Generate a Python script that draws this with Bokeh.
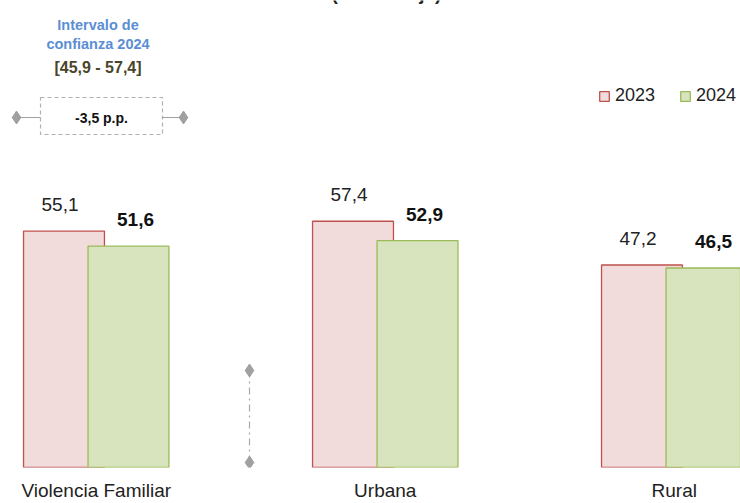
from bokeh.plotting import figure
from bokeh.models import Legend, LegendItem, Label, FixedTicker
from bokeh.core.properties import value
from bokeh.embed import file_html
from bokeh.resources import INLINE

# ---- data ----
categories = ["Violencia Familiar", "Urbana", "Rural"]
values_2023 = [55.1, 57.4, 47.2]
values_2024 = [51.6, 52.9, 46.5]
series_names = ["2023", "2024"]
title_text = "(Porcentaje)"
ci_title = ["Intervalo de", "confianza 2024"]
ci_range = "[45,9 - 57,4]"
diff_label = "-3,5 p.p."

FONT = "'Liberation Sans Narrow', 'Arial Narrow', 'Liberation Sans', sans-serif"

# ---- geometry (page pixels -> data) ----
W, H = 740, 503
BASE_PY = 467
PX_X = 289.0
PX_Y = 4.29
X0 = -95.75 / PX_X
Y1 = BASE_PY / PX_Y


def dx(px):
    return X0 + px / PX_X


def dy(py):
    return (BASE_PY - py) / PX_Y


def fmt(v):
    return f"{v:.1f}".replace(".", ",")


p = figure(width=W, height=H, output_backend="svg", toolbar_location=None,
           x_range=(X0, X0 + W / PX_X), y_range=(0, Y1),
           y_axis_location=None, tools="")
p.min_border_left = 0
p.min_border_right = 0
p.min_border_top = 0
p.min_border_bottom = H - BASE_PY
p.outline_line_color = None
p.xgrid.visible = False
p.ygrid.visible = False
p.background_fill_color = "white"
p.border_fill_color = "white"

idx = list(range(len(categories)))
off = 0.1116
bw = 0.28
x23 = [i - off for i in idx]
x24 = [i + off for i in idx]

r23 = p.vbar(x=x23, top=values_2023, bottom=0, width=bw,
             fill_color="#f2dcdb", line_color="#c0504d", line_width=1.3)
r24 = p.vbar(x=x24, top=values_2024, bottom=0, width=bw,
             fill_color="#d7e4bd", line_color="#9bbb59", line_width=1.3)

p.text(x=x23, y=values_2023, text=[fmt(v) for v in values_2023],
       text_align="center", text_baseline="bottom", y_offset=-20, x_offset=-4,
       text_font=value(FONT), text_font_size="19px", text_color="#222222")
p.text(x=x24, y=values_2024, text=[fmt(v) for v in values_2024],
       text_align="center", text_baseline="bottom", y_offset=-20, x_offset=7,
       text_font=value(FONT), text_font_size="19px", text_font_style="bold",
       text_color="#111111")

# x axis
ax = p.xaxis[0]
ax.ticker = FixedTicker(ticks=idx)
ax.major_label_overrides = {i: c for i, c in zip(idx, categories)}
ax.axis_line_color = None
ax.major_tick_line_color = None
ax.minor_tick_line_color = None
ax.major_tick_out = 0
ax.major_tick_in = 0
ax.major_label_standoff = 12
ax.major_label_text_font = FONT
ax.major_label_text_font_size = "19px"
ax.major_label_text_color = "#222222"

# legend
legend = Legend(items=[LegendItem(label=series_names[0], renderers=[r23]),
                       LegendItem(label=series_names[1], renderers=[r24])],
                orientation="horizontal", location=(598, 361))
legend.border_line_color = None
legend.background_fill_alpha = 0
legend.padding = 0
legend.margin = 0
legend.spacing = 24
legend.label_standoff = 5
legend.glyph_width = 12
legend.glyph_height = 12
legend.label_height = 20
legend.label_text_font = FONT
legend.label_text_font_size = "18px"
legend.label_text_color = "#222222"
p.add_layout(legend, "center")

# title (cut off at the top edge, as in the reference)
p.add_layout(Label(x=dx(386), y=dy(-7), text=title_text, text_align="center",
                   text_baseline="alphabetic", text_font=FONT,
                   text_font_size="19px", text_font_style="bold",
                   text_color="#222222"))

# confidence interval annotation
for txt, py in zip(ci_title, [24, 43]):
    p.add_layout(Label(x=dx(97.5), y=dy(py), text=txt, text_align="center",
                       text_baseline="middle", text_font=FONT,
                       text_font_size="14.5px", text_font_style="bold",
                       text_color="#5b8ed3"))
p.add_layout(Label(x=dx(97.5), y=dy(67), text=ci_range, text_align="center",
                   text_baseline="middle", text_font=FONT,
                   text_font_size="16px", text_font_style="bold",
                   text_color="#4a452a"))

p.quad(left=dx(40), right=dx(162), top=dy(97), bottom=dy(134),
       fill_color=None, line_color="#b0b0b0", line_dash="4 3", line_width=1.2)
p.add_layout(Label(x=dx(101), y=dy(117), text=diff_label, text_align="center",
                   text_baseline="middle", text_font=FONT,
                   text_font_size="14px", text_font_style="bold",
                   text_color="#111111"))
p.segment(x0=[dx(16), dx(162)], y0=[dy(117), dy(117)],
          x1=[dx(40), dx(183)], y1=[dy(117), dy(117)],
          line_color="#a0a0a0", line_width=1.2)
p.scatter(x=[dx(16), dx(183)], y=[dy(117), dy(117)], marker="diamond",
          size=13, fill_color="#a0a0a0", line_color="#a0a0a0")

# vertical dash-dot marker
p.segment(x0=[dx(249)], y0=[dy(370)], x1=[dx(249)], y1=[dy(462)],
          line_color="#a8a8a8", line_width=1.2, line_dash="7 4 2 4")
p.scatter(x=[dx(249), dx(249)], y=[dy(370), dy(462)], marker="diamond",
          size=13, fill_color="#a0a0a0", line_color="#a0a0a0")

open("out.html", "w").write(file_html(p, INLINE))
